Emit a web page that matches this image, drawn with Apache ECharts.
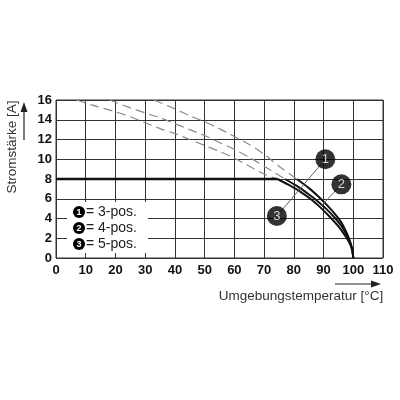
<!DOCTYPE html>
<html>
<head>
<meta charset="utf-8">
<script src="https://cdn.jsdelivr.net/npm/echarts@6/dist/echarts.min.js"></script>
<style>
  html, body { margin: 0; padding: 0; background: #fff; }
  #chart { width: 400px; height: 400px; }
</style>
</head>
<body>
<div id="chart"></div>
<script>
// Werte (Temperatur in °C, Strom in A)
var xTicks = [0, 10, 20, 30, 40, 50, 60, 70, 80, 90, 100, 110];
var yTicks = [0, 2, 4, 6, 8, 10, 12, 14, 16];

// waagrechte Linie bei 8 A
var baseLine = [[0, 8], [74.5, 8]];

// gestrichelte Kurven (oberhalb 8 A)
var dash1 = [[33, 16], [40, 15.1], [45, 14.4], [50, 13.8], [55, 13.1], [60, 12.3], [65, 11.5], [70, 10.5], [75, 9.3], [81, 8]];
var dash2 = [[18, 16], [25, 15.2], [30, 14.7], [35, 14.2], [40, 13.6], [45, 13.0], [50, 12.4], [55, 11.7], [60, 11.0], [65, 10.2], [70, 9.3], [77, 8]];
var dash3 = [[7, 16], [12, 15.5], [20, 14.8], [25, 14.3], [30, 13.7], [35, 13.1], [40, 12.6], [45, 12.0], [50, 11.4], [55, 10.8], [60, 10.1], [65, 9.3], [70, 8.5], [74.5, 8]];

// durchgezogene Derating-Kurven
var curve1 = [[81, 8], [85, 7.1], [88, 6.3], [91, 5.4], [94, 4.4], [96, 3.6], [98, 2.4], [99, 1.6], [99.7, 0.8], [100, 0]];
var curve2 = [[77, 8], [81, 7.3], [85, 6.45], [88, 5.75], [91, 4.95], [94, 4.0], [96, 3.25], [98, 2.2], [99, 1.5], [99.7, 0.75], [100, 0]];
var curve3 = [[74.5, 8], [78, 7.45], [82, 6.75], [86, 5.9], [89, 5.1], [92, 4.2], [95, 3.2], [97.5, 2.15], [99, 1.35], [99.7, 0.7], [100, 0]];

// Kennzeichnungen (Kreise mit Nummer) und Hinweislinien
var markers = [[90.6, 10.0, '1'], [96, 7.46, '2'], [74.3, 4.25, '3']];
var pointer13 = [[90.6, 10.0], [74.3, 4.25]];
var pointer2 = [[96, 7.46], [89.3, 5.3]];

var legendNames = ['= 3-pos.', '= 4-pos.', '= 5-pos.'];

var myChart = echarts.init(document.getElementById('chart'));
var FONT = '"Liberation Sans", Arial, sans-serif';

function dashSeries(data) {
	return {
		type: 'line', data: data, smooth: 0.25, symbol: 'none', z: 3,
		lineStyle: { color: '#8a8a8a', width: 1.2, type: [9, 5] }
	};
}
function solidSeries(data) {
	return {
		type: 'line', data: data, smooth: 0.2, symbol: 'none', z: 4,
		lineStyle: { color: '#111', width: 2 }
	};
}

var legendGraphic = [{
	type: 'rect', shape: { x: 67, y: 202, width: 81, height: 51 },
	style: { fill: '#fff' }, z: 10
}];
for (var i = 0; i < legendNames.length; i++) {
	var cy = 212 + i * 16;
	legendGraphic.push({
		type: 'circle', shape: { cx: 79, cy: cy, r: 6 },
		style: { fill: '#000' }, z: 11
	});
	legendGraphic.push({
		type: 'text', x: 79, y: cy + 0.5, z: 12,
		style: { text: String(i + 1), fill: '#fff', font: 'bold 9px ' + FONT, align: 'center', verticalAlign: 'middle' }
	});
	legendGraphic.push({
		type: 'text', x: 86, y: cy, z: 12,
		style: { text: legendNames[i], fill: '#222', font: '14px ' + FONT, verticalAlign: 'middle' }
	});
}

// Achsenpfeile und Achsentitel
legendGraphic.push(
	{ type: 'line', shape: { x1: 24, y1: 140, x2: 24, y2: 110 }, style: { stroke: '#222', lineWidth: 1.2 } },
	{ type: 'polygon', shape: { points: [[24, 102], [20.5, 112], [27.5, 112]] }, style: { fill: '#222' } },
	{ type: 'line', shape: { x1: 335, y1: 284, x2: 372, y2: 284 }, style: { stroke: '#222', lineWidth: 1.2 } },
	{ type: 'polygon', shape: { points: [[381, 284], [371, 280.5], [371, 287.5]] }, style: { fill: '#222' } },
	{
		type: 'text', x: 301, y: 296,
		style: { text: 'Umgebungstemperatur [°C]', fill: '#333', font: '13.5px ' + FONT, align: 'center', verticalAlign: 'middle' }
	},
	{
		type: 'text', x: 12, y: 147, rotation: Math.PI / 2,
		style: { text: 'Stromstärke [A]', fill: '#333', font: '13.5px ' + FONT, align: 'center', verticalAlign: 'middle' }
	}
);

option = {
	backgroundColor: '#fff',
	animation: false,
	grid: { left: 56, right: 17, top: 100, bottom: 142, show: true, borderColor: '#333', borderWidth: 1 },
	xAxis: {
		type: 'value', min: xTicks[0], max: xTicks[xTicks.length - 1], interval: 10,
		axisLine: { show: false }, axisTick: { show: false },
		splitLine: { show: true, lineStyle: { color: '#333', width: 1 } },
		axisLabel: { fontFamily: FONT, fontWeight: 'bold', fontSize: 13, color: '#111', margin: 6 }
	},
	yAxis: {
		type: 'value', min: yTicks[0], max: yTicks[yTicks.length - 1], interval: 2,
		axisLine: { show: false }, axisTick: { show: false },
		splitLine: { show: true, lineStyle: { color: '#333', width: 1 } },
		axisLabel: { fontFamily: FONT, fontWeight: 'bold', fontSize: 13, color: '#111', margin: 4 }
	},
	graphic: legendGraphic,
	series: [
		dashSeries(dash1),
		dashSeries(dash2),
		dashSeries(dash3),
		{ type: 'line', data: baseLine, symbol: 'none', z: 4, lineStyle: { color: '#111', width: 2.5 } },
		solidSeries(curve1),
		solidSeries(curve2),
		solidSeries(curve3),
		{ type: 'line', data: pointer13, symbol: 'none', z: 5, lineStyle: { color: '#666', width: 1 } },
		{ type: 'line', data: pointer2, symbol: 'none', z: 5, lineStyle: { color: '#666', width: 1 } },
		{
			type: 'scatter', data: markers, symbolSize: 20, z: 6,
			itemStyle: { color: '#000' },
			label: {
				show: true, position: 'inside', color: '#fff', fontFamily: FONT, fontSize: 13,
				formatter: function(p) { return p.data[2]; }
			}
		}
	]
};
myChart.setOption(option);
</script>
</body>
</html>
